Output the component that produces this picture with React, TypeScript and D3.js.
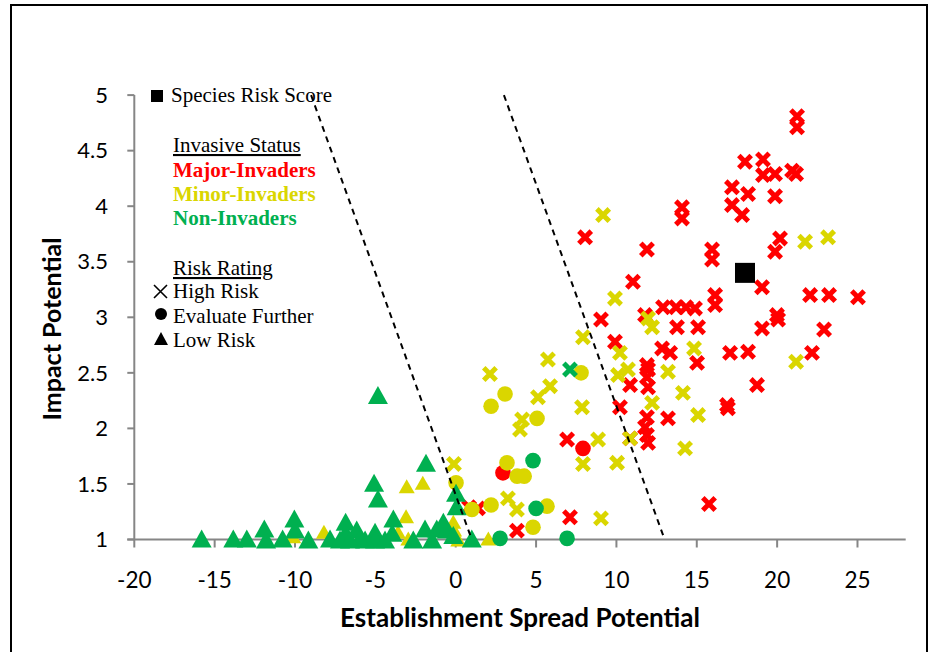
import React from "react";
import * as d3 from "d3";

// ---------- data ----------
const spreadTicks = [-20, -15, -10, -5, 0, 5, 10, 15, 20, 25];
const impactTicks = [1, 1.5, 2, 2.5, 3, 3.5, 4, 4.5, 5];
const impactTickLabels = ["1", "1.5", "2", "2.5", "3", "3.5", "4", "4.5", "5"];

// Major-Invaders, High Risk (red crosses) [spread, impact]
const majorHigh: [number, number][] = [
  [21.24, 4.81], [21.24, 4.71], [18.0, 4.4], [19.12, 4.42], [19.12, 4.28], [19.87, 4.29],
  [20.93, 4.32], [21.18, 4.29], [17.19, 4.17], [18.19, 4.11], [19.87, 4.09], [17.19, 4.01],
  [17.82, 3.92], [14.08, 3.99], [14.08, 3.89], [11.9, 3.61], [15.95, 3.61], [15.95, 3.52],
  [20.18, 3.71], [19.87, 3.59], [11.03, 3.32], [19.06, 3.27], [16.14, 3.2], [16.14, 3.11],
  [22.05, 3.2], [23.23, 3.2], [25.03, 3.18], [12.9, 3.09], [13.71, 3.09], [14.33, 3.09],
  [14.89, 3.08], [11.78, 3.02], [9.04, 2.98], [13.77, 2.91], [15.08, 2.91], [19.06, 2.9],
  [19.99, 3.02], [20.06, 2.98], [22.92, 2.89], [9.91, 2.78], [12.84, 2.72], [13.34, 2.68],
  [15.02, 2.59], [17.07, 2.68], [18.19, 2.69], [22.17, 2.68], [11.9, 2.57], [11.97, 2.53],
  [10.85, 2.39], [11.9, 2.46], [11.97, 2.37], [18.75, 2.39], [16.88, 2.21], [16.94, 2.18],
  [10.22, 2.19], [11.9, 2.1], [13.21, 2.09], [11.78, 2.01], [11.9, 1.94], [11.97, 1.87],
  [10.85, 1.91], [15.76, 1.32], [8.05, 3.72], [6.93, 1.9], [7.11, 1.2], [3.81, 1.08],
  [0.83, 1.29], [1.39, 1.28],
];
// Major-Invaders, Evaluate Further (red circles)
const majorEvaluate: [number, number][] = [[2.94, 1.6], [7.92, 1.82]];

// Minor-Invaders, High Risk (yellow crosses)
const minorHigh: [number, number][] = [
  [21.74, 3.68], [23.17, 3.72], [21.18, 2.6], [9.91, 3.17], [11.97, 2.99], [12.22, 2.91],
  [10.22, 2.68], [14.83, 2.72], [10.1, 2.48], [10.72, 2.53], [13.21, 2.51], [14.14, 2.32],
  [12.22, 2.23], [15.08, 2.12], [10.85, 1.91], [14.27, 1.82], [9.17, 3.92], [7.92, 2.82],
  [10.04, 1.69], [9.04, 1.19], [7.86, 2.19], [8.86, 1.9], [7.92, 1.68], [2.13, 2.49],
  [5.74, 2.62], [5.87, 2.38], [5.12, 2.28], [4.13, 2.08], [4.0, 1.99], [-0.11, 1.68],
  [3.25, 1.37], [3.81, 1.27],
];
// Minor-Invaders, Evaluate Further (yellow circles)
const minorEvaluate: [number, number][] = [
  [2.2, 2.2], [3.07, 2.31], [5.06, 2.09], [0.02, 1.51], [1.01, 1.27], [2.2, 1.31],
  [3.19, 1.69], [3.82, 1.57], [4.26, 1.57], [4.81, 1.11], [5.68, 1.3], [7.8, 2.5],
];
// Minor-Invaders, Low Risk (yellow triangles)
const minorLow: [number, number][] = [
  [-3.05, 1.48], [-2.05, 1.51], [-8.2, 1.07], [-10.11, 1.03], [-3.09, 1.21], [-2.95, 1.01],
  [-0.15, 1.16], [0.16, 1.0], [-3.59, 1.07], [2.03, 1.01], [-0.1, 1.09],
];

// Non-Invaders
const nonHigh: [number, number][] = [[7.11, 2.53]];
const nonEvaluate: [number, number][] = [[4.81, 1.71], [5.0, 1.28], [2.76, 1.01], [6.93, 1.01]];
const nonLow: [number, number][] = [
  [-4.84, 2.3], [-1.85, 1.69], [-5.08, 1.51], [-4.84, 1.37], [-15.81, 1.01], [-13.84, 1.01],
  [-13.0, 1.01], [-11.91, 1.1], [-11.8, 1.0], [-10.04, 1.19], [-10.0, 1.09], [-10.77, 1.01],
  [-9.17, 1.0], [-7.82, 1.01], [-6.85, 1.16], [-6.85, 1.06], [-6.16, 1.09], [-5.02, 1.07],
  [-5.02, 1.0], [-3.88, 1.19], [-3.95, 1.06], [-1.91, 1.1], [-1.18, 1.1], [-0.77, 1.16],
  [0.02, 1.42], [0.06, 1.3], [1.0, 1.01], [-2.64, 1.0], [-5.64, 1.0], [-5.96, 1.01],
  [-0.56, 1.09], [-0.15, 1.04], [-1.47, 1.0], [-7.2, 1.0], [-6.58, 1.0], [-4.4, 1.0],
];

// Species risk score (black square)
const speciesRiskScore: [number, number] = [18.0, 3.4];

// Threshold lines
const thresholdLow: [number, number][] = [[-9, 5], [1, 1]];
const thresholdHigh: [number, number][] = [[3, 5], [13, 1]];

// ---------- colors ----------
const RED = "#FF0000";
const YELLOW = "#DAD600";
const GREEN = "#00B050";
const AXIS = "#868686";

const W = 933;
const H = 652;

export default function App() {
  const x = d3.scaleLinear().domain([-20, 28]).range([134.3, 905.7]);
  const y = d3.scaleLinear().domain([1, 5]).range([539.5, 95.1]);
  const line = d3
    .line<[number, number]>()
    .x((d) => x(d[0]))
    .y((d) => y(d[1]));

  const cross = (d: [number, number], color: string, key: string) => {
    const cx = x(d[0]);
    const cy = y(d[1]);
    const s = 6.2;
    return (
      <path
        key={key}
        d={`M${cx - s},${cy - s}L${cx + s},${cy + s}M${cx - s},${cy + s}L${cx + s},${cy - s}`}
        stroke={color}
        strokeWidth={5}
        fill="none"
      />
    );
  };
  const circle = (d: [number, number], color: string, key: string) => (
    <circle key={key} cx={x(d[0])} cy={y(d[1])} r={7.8} fill={color} />
  );
  const tri = (d: [number, number], color: string, key: string, w: number, h: number) => {
    const cx = x(d[0]);
    const cy = y(d[1]);
    return (
      <path
        key={key}
        d={`M${cx},${cy - h / 2}L${cx + w / 2},${cy + h / 2}L${cx - w / 2},${cy + h / 2}Z`}
        fill={color}
      />
    );
  };

  const sans = "Lato, 'Open Sans', sans-serif";
  const serif = "'Liberation Serif', 'Times New Roman', serif";
  const lf = 21;

  return (
    <svg
      width={W}
      height={H}
      style={{ position: "absolute", left: 0, top: 0, background: "#fff" }}
    >
      <rect x={0} y={0} width={W} height={H} fill="#fff" />
      {/* outer border */}
      <rect x={11} y={5} width={916} height={H + 10} fill="none" stroke="#000" strokeWidth={2} />

      {/* axes */}
      <line x1={x(-20)} x2={x(-20)} y1={y(5)} y2={y(1)} stroke={AXIS} strokeWidth={2} />
      <line x1={x(-20) - 7} x2={x(28)} y1={y(1)} y2={y(1)} stroke={AXIS} strokeWidth={2} />
      {impactTicks.map((t) => (
        <line key={"yt" + t} x1={x(-20) - 7} x2={x(-20)} y1={y(t)} y2={y(t)} stroke={AXIS} strokeWidth={2} />
      ))}
      {spreadTicks.map((t) => (
        <line key={"xt" + t} x1={x(t)} x2={x(t)} y1={y(1)} y2={y(1) + 8} stroke={AXIS} strokeWidth={2} />
      ))}
      {impactTicks.map((t, i) => (
        <text
          key={"yl" + t}
          x={108}
          y={y(t)}
          dy="0.35em"
          textAnchor="end"
          fontFamily={sans}
          fontSize={22}
          fill="#000"
        >
          {impactTickLabels[i]}
        </text>
      ))}
      {spreadTicks.map((t) => (
        <text
          key={"xl" + t}
          x={x(t)}
          y={588}
          textAnchor="middle"
          fontFamily={sans}
          fontSize={22.5}
          fill="#000"
        >
          {t}
        </text>
      ))}
      <text x={520} y={627} textAnchor="middle" fontFamily={sans} fontWeight="bold" fontSize={26} fill="#000">
        Establishment Spread Potential
      </text>
      <text
        transform={`translate(61,329) rotate(-90)`}
        textAnchor="middle"
        fontFamily={sans}
        fontWeight="bold"
        fontSize={25}
        fill="#000"
      >
        Impact Potential
      </text>

      {/* markers */}
      {majorHigh.map((d, i) => cross(d, RED, "mh" + i))}
      {majorEvaluate.map((d, i) => circle(d, RED, "me" + i))}
      {minorHigh.map((d, i) => cross(d, YELLOW, "nh" + i))}
      {minorEvaluate.map((d, i) => circle(d, YELLOW, "ne" + i))}
      {minorLow.map((d, i) => tri(d, YELLOW, "nl" + i, 16, 14))}
      {nonHigh.map((d, i) => cross(d, GREEN, "gh" + i))}
      {nonEvaluate.map((d, i) => circle(d, GREEN, "ge" + i))}
      {nonLow.map((d, i) => tri(d, GREEN, "gl" + i, 20, 18))}

      {/* threshold lines */}
      <path d={line(thresholdLow) || ""} stroke="#000" strokeWidth={2} strokeDasharray="6,5" fill="none" />
      <path d={line(thresholdHigh) || ""} stroke="#000" strokeWidth={2} strokeDasharray="6,5" fill="none" />

      {/* species risk score */}
      <rect
        x={x(speciesRiskScore[0]) - 10}
        y={y(speciesRiskScore[1]) - 10}
        width={20}
        height={20}
        fill="#000"
      />

      {/* legend */}
      <rect x={151} y={90} width={12} height={12} fill="#000" />
      <text x={171} y={102} fontFamily={serif} fontSize={lf} fill="#000">Species Risk Score</text>
      <text x={173} y={152} fontFamily={serif} fontSize={lf} fill="#000" textDecoration="underline">Invasive Status</text>
      <text x={173} y={177} fontFamily={serif} fontSize={lf} fontWeight="bold" fill={RED}>Major-Invaders</text>
      <text x={173} y={201} fontFamily={serif} fontSize={lf} fontWeight="bold" fill={YELLOW}>Minor-Invaders</text>
      <text x={173} y={225} fontFamily={serif} fontSize={lf} fontWeight="bold" fill={GREEN}>Non-Invaders</text>
      <text x={173} y={275} fontFamily={serif} fontSize={lf} fill="#000" textDecoration="underline">Risk Rating</text>
      <path d="M154,285L167,298M154,298L167,285" stroke="#000" strokeWidth={1.6} fill="none" />
      <text x={173} y={298} fontFamily={serif} fontSize={lf} fill="#000">High Risk</text>
      <circle cx={161} cy={314} r={6} fill="#000" />
      <text x={173} y={323} fontFamily={serif} fontSize={lf} fill="#000">Evaluate Further</text>
      <path d="M161,332L168,345L154,345Z" fill="#000" />
      <text x={173} y={347} fontFamily={serif} fontSize={lf} fill="#000">Low Risk</text>
    </svg>
  );
}
